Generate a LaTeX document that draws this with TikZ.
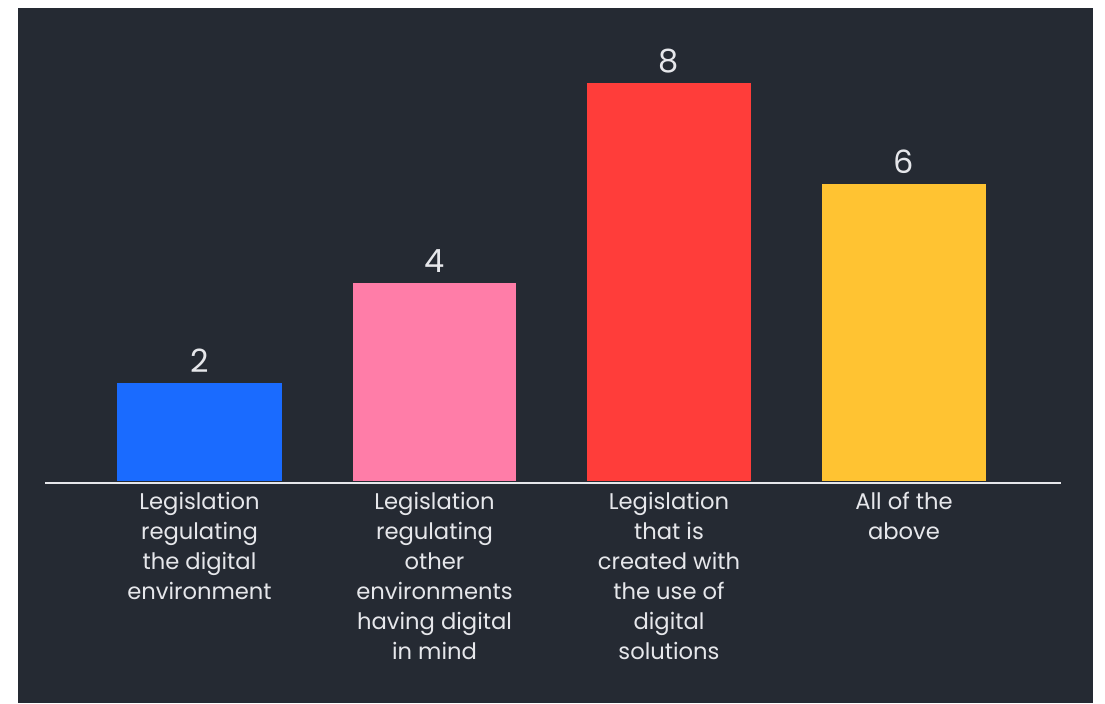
\documentclass[tikz,border=0pt]{standalone}
\usepackage{fontspec}
\setmainfont{Poppins}
\definecolor{bgdark}{HTML}{252A33}
\definecolor{barblue}{HTML}{1A6BFF}
\definecolor{barpink}{HTML}{FF7DA8}
\definecolor{barred}{HTML}{FF3D3A}
\definecolor{baryellow}{HTML}{FFC332}
\definecolor{txtgray}{HTML}{E6E7EB}
\tikzset{
    value/.style={anchor=south, text=txtgray, font=\fontsize{24}{28}\selectfont, inner sep=0pt},
    catlabel/.style={anchor=north, text=txtgray, align=center, font=\fontsize{17}{22.5}\selectfont, inner sep=0pt}
}
\begin{document}
\begin{tikzpicture}[x=0.75pt,y=-0.75pt]
        \useasboundingbox (0,0) rectangle (1105,703);
        \fill[white] (0,0) rectangle (1105,703);
        \fill[bgdark] (18,8) rectangle (1093,703);
        % bars
        \fill[barblue] (117,481) rectangle (282,383);
        \fill[barpink] (353,481) rectangle (516,283);
        \fill[barred] (587,481) rectangle (751,83);
        \fill[baryellow] (822,481) rectangle (986,184);
        \draw[txtgray, line width=2.2pt] (45,483) -- (1061,483);
        % values
        \node[value] (v1) at (199.5,373) {2};
        \node[value] (v2) at (434.5,273) {4};
        \node[value] (v3) at (669,73) {8};
        \node[value] (v4) at (904,174) {6};
        % categories
        \node[catlabel] (c1) at (199.5,492) {Legislation\\regulating\\the digital\\environment};
        \node[catlabel] (c2) at (434.5,492) {Legislation\\regulating\\other\\environments\\having digital\\in mind};
        \node[catlabel] (c3) at (669,492) {Legislation\\that is\\created with\\the use of\\digital\\solutions};
        \node[catlabel] (c4) at (904,492) {All of the\\above};
    \end{tikzpicture}
\end{document}
